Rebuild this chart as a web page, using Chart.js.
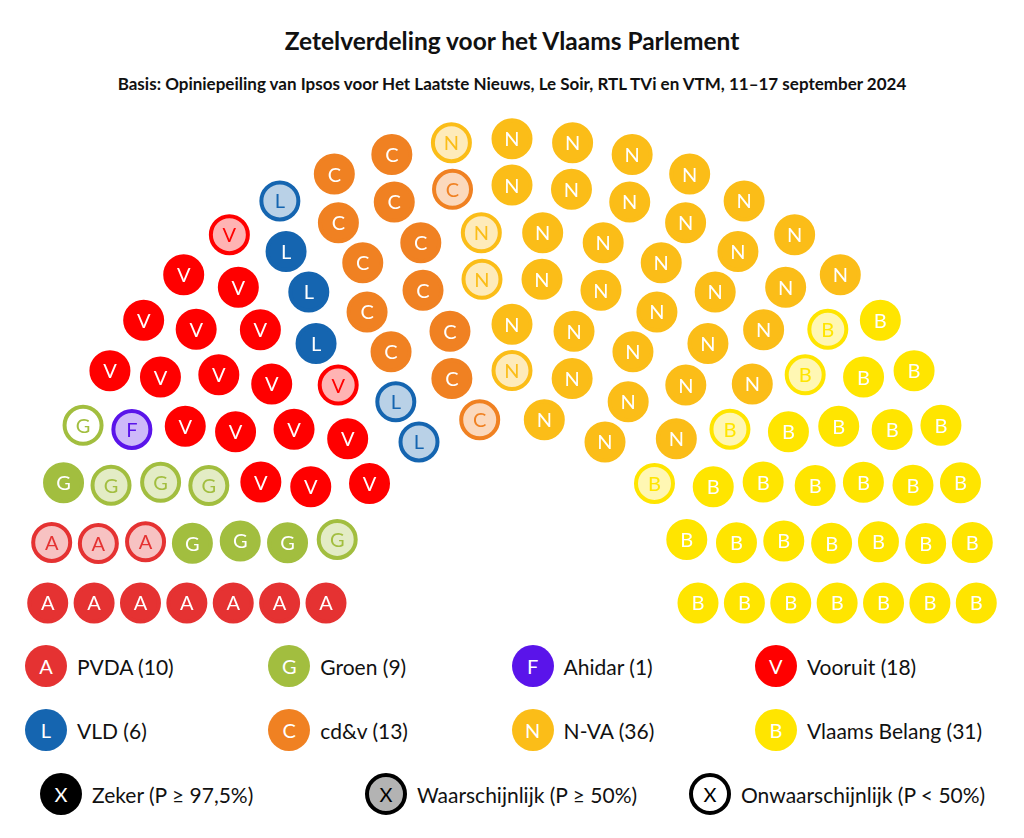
<!DOCTYPE html>
<html>
<head>
<meta charset="utf-8">
<script src="https://cdn.jsdelivr.net/npm/chart.js@4"></script>
<style>
  html, body { margin: 0; padding: 0; background: #fff; }
  body { width: 1024px; height: 838px; position: relative; font-family: Lato, "Open Sans", sans-serif; color: #111; }
  #title { position: absolute; top: 25px; left: 0; width: 1024px; text-align: center; font-weight: bold; font-size: 24.5px; line-height: 32px; }
  #subtitle { position: absolute; top: 73px; left: 0; width: 1024px; text-align: center; font-weight: bold; font-size: 17px; line-height: 22px; }
  #wrap { position: absolute; top: 110px; left: 0; width: 1024px; height: 530px; }
  .item { position: absolute; display: flex; align-items: center; font-size: 21px; white-space: nowrap; }
  .dot { width: 42px; height: 42px; border-radius: 50%; box-sizing: border-box; display: flex; align-items: center; justify-content: center; color: #fff; font-size: 20px; margin-right: 10px; }
</style>
</head>
<body>
<div id="title">Zetelverdeling voor het Vlaams Parlement</div>
<div id="subtitle">Basis: Opiniepeiling van Ipsos voor Het Laatste Nieuws, Le Soir, RTL TVi en VTM, 11–17 september 2024</div>
<div id="wrap"><canvas id="seats" width="1024" height="530"></canvas></div>
<div id="legend"></div>
<script>
// parties from left to right
const partyNames = ["PVDA", "Groen", "Ahidar", "Vooruit", "VLD", "cd&v", "N-VA", "Vlaams Belang"];
const partyLetters = ["A", "G", "F", "V", "L", "C", "N", "B"];
const seatCounts = [10, 9, 1, 18, 6, 13, 36, 31];
const partyColors = ["#e53232", "#a2be3f", "#5a14ea", "#ff0000", "#1565b0", "#f08122", "#fbbd18", "#ffe500"];
// status of each seat in seating order: S = zeker, P = waarschijnlijk, U = onwaarschijnlijk
const seatStatus = [
  "SSSSSSSPPP",
  "SSSSPPPPU",
  "P",
  "SSSSSSSSSSSSSSSSPP",
  "SSSPPP",
  "SSSSSSSSSSSPP",
  "PPPPSSSSSSSSSSSSSSSSSSSSSSSSSSSSSSSS",
  "PPPPSSSSSSSSSSSSSSSSSSSSSSSSSSS"
];
const statusNames = ["Zeker (P ≥ 97,5%)", "Waarschijnlijk (P ≥ 50%)", "Onwaarschijnlijk (P < 50%)"];

// hemicycle layout
const rows = 7;
const innerR = 186, rowGap = 46.38;
const totalSeats = seatCounts.reduce((a, b) => a + b, 0);

function lighten(hex, a) {
  let r = parseInt(hex.slice(1, 3), 16), g = parseInt(hex.slice(3, 5), 16), b = parseInt(hex.slice(5, 7), 16);
  let m = c => Math.round(255 - a * (255 - c));
  return "rgb(" + m(r) + "," + m(g) + "," + m(b) + ")";
}

function buildSeats() {
  let radii = [];
  for (let i = 0; i < rows; i++) radii.push(innerR + i * rowGap);
  let sumR = radii.reduce((a, b) => a + b, 0);
  let perRow = radii.map(r => Math.round(totalSeats * r / sumR));
  let diff = totalSeats - perRow.reduce((a, b) => a + b, 0);
  perRow[rows - 1] += diff;

  let seats = [];
  radii.forEach(function (r, i) {
    let n = perRow[i];
    for (let j = 0; j < n; j++) {
      let t = j / (n - 1);
      let ang = Math.PI * (1 - t);
      seats.push({ t: Math.round(t * 1e6), r: r, x: r * Math.cos(ang), y: r * Math.sin(ang) });
    }
  });
  seats.sort((a, b) => a.t - b.t || a.r - b.r);
  return seats;
}

let seats = buildSeats();
let datasets = [];
let k = 0;
seatCounts.forEach(function (count, p) {
  let pts = seats.slice(k, k + count).map(s => ({ x: s.x, y: s.y }));
  k += count;
  let col = partyColors[p];
  let fills = seatStatus[p].split("").map(s => s === "S" ? col : (s === "P" ? lighten(col, 0.3) : "#ffffff"));
  datasets.push({
    label: partyNames[p],
    data: pts,
    pointStyle: "circle",
    pointRadius: 18.5,
    pointHoverRadius: 18.5,
    pointBorderWidth: 4,
    pointHoverBorderWidth: 4,
    pointBackgroundColor: fills,
    pointBorderColor: col,
    clip: false
  });
});

// letters inside the seats
const seatLetters = {
  id: "seatLetters",
  afterDatasetsDraw(chart) {
    let ctx = chart.ctx;
    ctx.save();
    ctx.font = "20px Lato";
    ctx.textAlign = "center";
    ctx.textBaseline = "middle";
    chart.data.datasets.forEach(function (ds, p) {
      chart.getDatasetMeta(p).data.forEach(function (pt, i) {
        ctx.fillStyle = seatStatus[p][i] === "S" ? "#ffffff" : partyColors[p];
        ctx.fillText(partyLetters[p], pt.x, pt.y + 1);
      });
    });
    ctx.restore();
  }
};

new Chart(document.getElementById("seats"), {
  type: "scatter",
  data: { datasets: datasets },
  options: {
    responsive: false,
    animation: false,
    events: [],
    layout: { padding: 0, autoPadding: false },
    plugins: { legend: { display: false }, tooltip: { enabled: false } },
    scales: {
      x: { type: "linear", min: -512, max: 512, display: false },
      y: { type: "linear", min: -37, max: 493, display: false }
    }
  },
  plugins: [seatLetters]
});

// legend
let legend = document.getElementById("legend");
function addItem(cx, cy, letter, bg, border, fg, text) {
  let item = document.createElement("div");
  item.className = "item";
  item.style.left = (cx - 21) + "px";
  item.style.top = (cy - 21) + "px";
  let dot = document.createElement("div");
  dot.className = "dot";
  dot.style.background = bg;
  if (border) dot.style.border = "4px solid " + border;
  dot.style.color = fg;
  dot.textContent = letter;
  let label = document.createElement("span");
  label.textContent = text;
  item.appendChild(dot);
  item.appendChild(label);
  legend.appendChild(item);
}
partyNames.forEach(function (name, p) {
  let col = p % 4, row = Math.floor(p / 4);
  addItem(46 + col * 243.3, 666 + row * 64, partyLetters[p], partyColors[p], null, "#fff",
    name + " (" + seatCounts[p] + ")");
});
addItem(61, 794, "X", "#000", null, "#fff", statusNames[0]);
addItem(386, 794, "X", "#b3b3b3", "#000", "#000", statusNames[1]);
addItem(710, 794, "X", "#fff", "#000", "#000", statusNames[2]);
</script>
</body>
</html>
